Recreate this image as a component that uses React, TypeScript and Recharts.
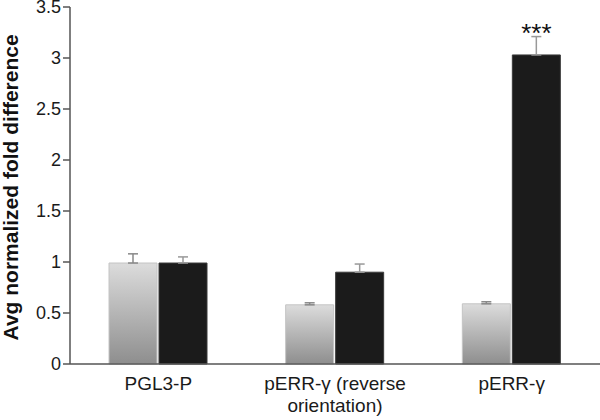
import React from 'react';
import { BarChart, Bar, XAxis, YAxis, ErrorBar, LabelList } from 'recharts';

const categories = ['PGL3-P', 'pERR-γ (reverse\norientation)', 'pERR-γ'];
const lightValues = [0.99, 0.58, 0.59];
const lightErrors = [0.09, 0.02, 0.02];
const darkValues = [0.99, 0.9, 3.03];
const darkErrors = [0.06, 0.08, 0.18];
const significance = ['', '', '***'];
const yTicks = [0, 0.5, 1, 1.5, 2, 2.5, 3, 3.5];

const data = categories.map((name, i) => ({
    name,
    light: lightValues[i],
    lightErr: [0, lightErrors[i]],
    dark: darkValues[i],
    darkErr: [0, darkErrors[i]],
    sig: significance[i],
}));

const FONT = 'Liberation Sans, Arial, Helvetica, sans-serif';

const CategoryTick = (props: any) => {
    const { x, y, payload } = props;
    const lines = String(payload.value).split('\n');
    return (
        <text x={x} y={y + 18} textAnchor="middle" fill="#1a1a1a" fontSize={19} fontFamily={FONT}>
            {lines.map((line, i) => (
                <tspan key={i} x={x} dy={i === 0 ? 0 : 22}>{line}</tspan>
            ))}
        </text>
    );
};

const StarLabel = (props: any) => {
    const { x, y, width, value } = props;
    if (!value) return null;
    return (
        <text x={x + width / 2} y={y - 13} textAnchor="middle" fill="#111" fontSize={26} fontFamily={FONT}>
            {value}
        </text>
    );
};

export default function App() {
    return (
        <div style={{ position: 'absolute', left: 0, top: 0, width: 600, height: 420, background: '#fff' }}>
            <BarChart
                width={600}
                height={420}
                data={data}
                margin={{ top: 7, right: 0, left: 0, bottom: 0 }}
                barGap={2}
                barSize={48}
            >
                <defs>
                    <linearGradient id="lightGrad" x1="0" y1="0" x2="0" y2="1">
                        <stop offset="0%" stopColor="#dcdcdc" />
                        <stop offset="100%" stopColor="#8e8e8e" />
                    </linearGradient>
                </defs>
                <XAxis
                    dataKey="name"
                    height={56}
                    tickLine={false}
                    axisLine={{ stroke: '#555', strokeWidth: 1.5 }}
                    tick={<CategoryTick />}
                    interval={0}
                />
                <YAxis
                    width={70}
                    domain={[0, 3.5]}
                    ticks={yTicks}
                    interval={0}
                    axisLine={{ stroke: '#555', strokeWidth: 1.5 }}
                    tickLine={{ stroke: '#555', strokeWidth: 1.5 }}
                    tickSize={7}
                    tick={{ fill: '#1a1a1a', fontSize: 18, fontFamily: FONT }}
                    label={{
                        value: 'Avg normalized fold difference',
                        angle: -90,
                        position: 'insideLeft',
                        dx: 6,
                        dy: 155,
                        style: { fontSize: 21, fontWeight: 700, fill: '#111', fontFamily: FONT, textAnchor: 'start' },
                    }}
                />
                <Bar dataKey="light" fill="url(#lightGrad)" stroke="#c4c4c4" strokeWidth={1} isAnimationActive={false}>
                    <ErrorBar dataKey="lightErr" direction="y" width={5} stroke="#888" strokeWidth={1.5} />
                </Bar>
                <Bar dataKey="dark" fill="#1b1b1b" stroke="#3a3a3a" strokeWidth={1} isAnimationActive={false}>
                    <ErrorBar dataKey="darkErr" direction="y" width={5} stroke="#999" strokeWidth={1.5} />
                    <LabelList dataKey="sig" content={<StarLabel />} />
                </Bar>
            </BarChart>
        </div>
    );
}
